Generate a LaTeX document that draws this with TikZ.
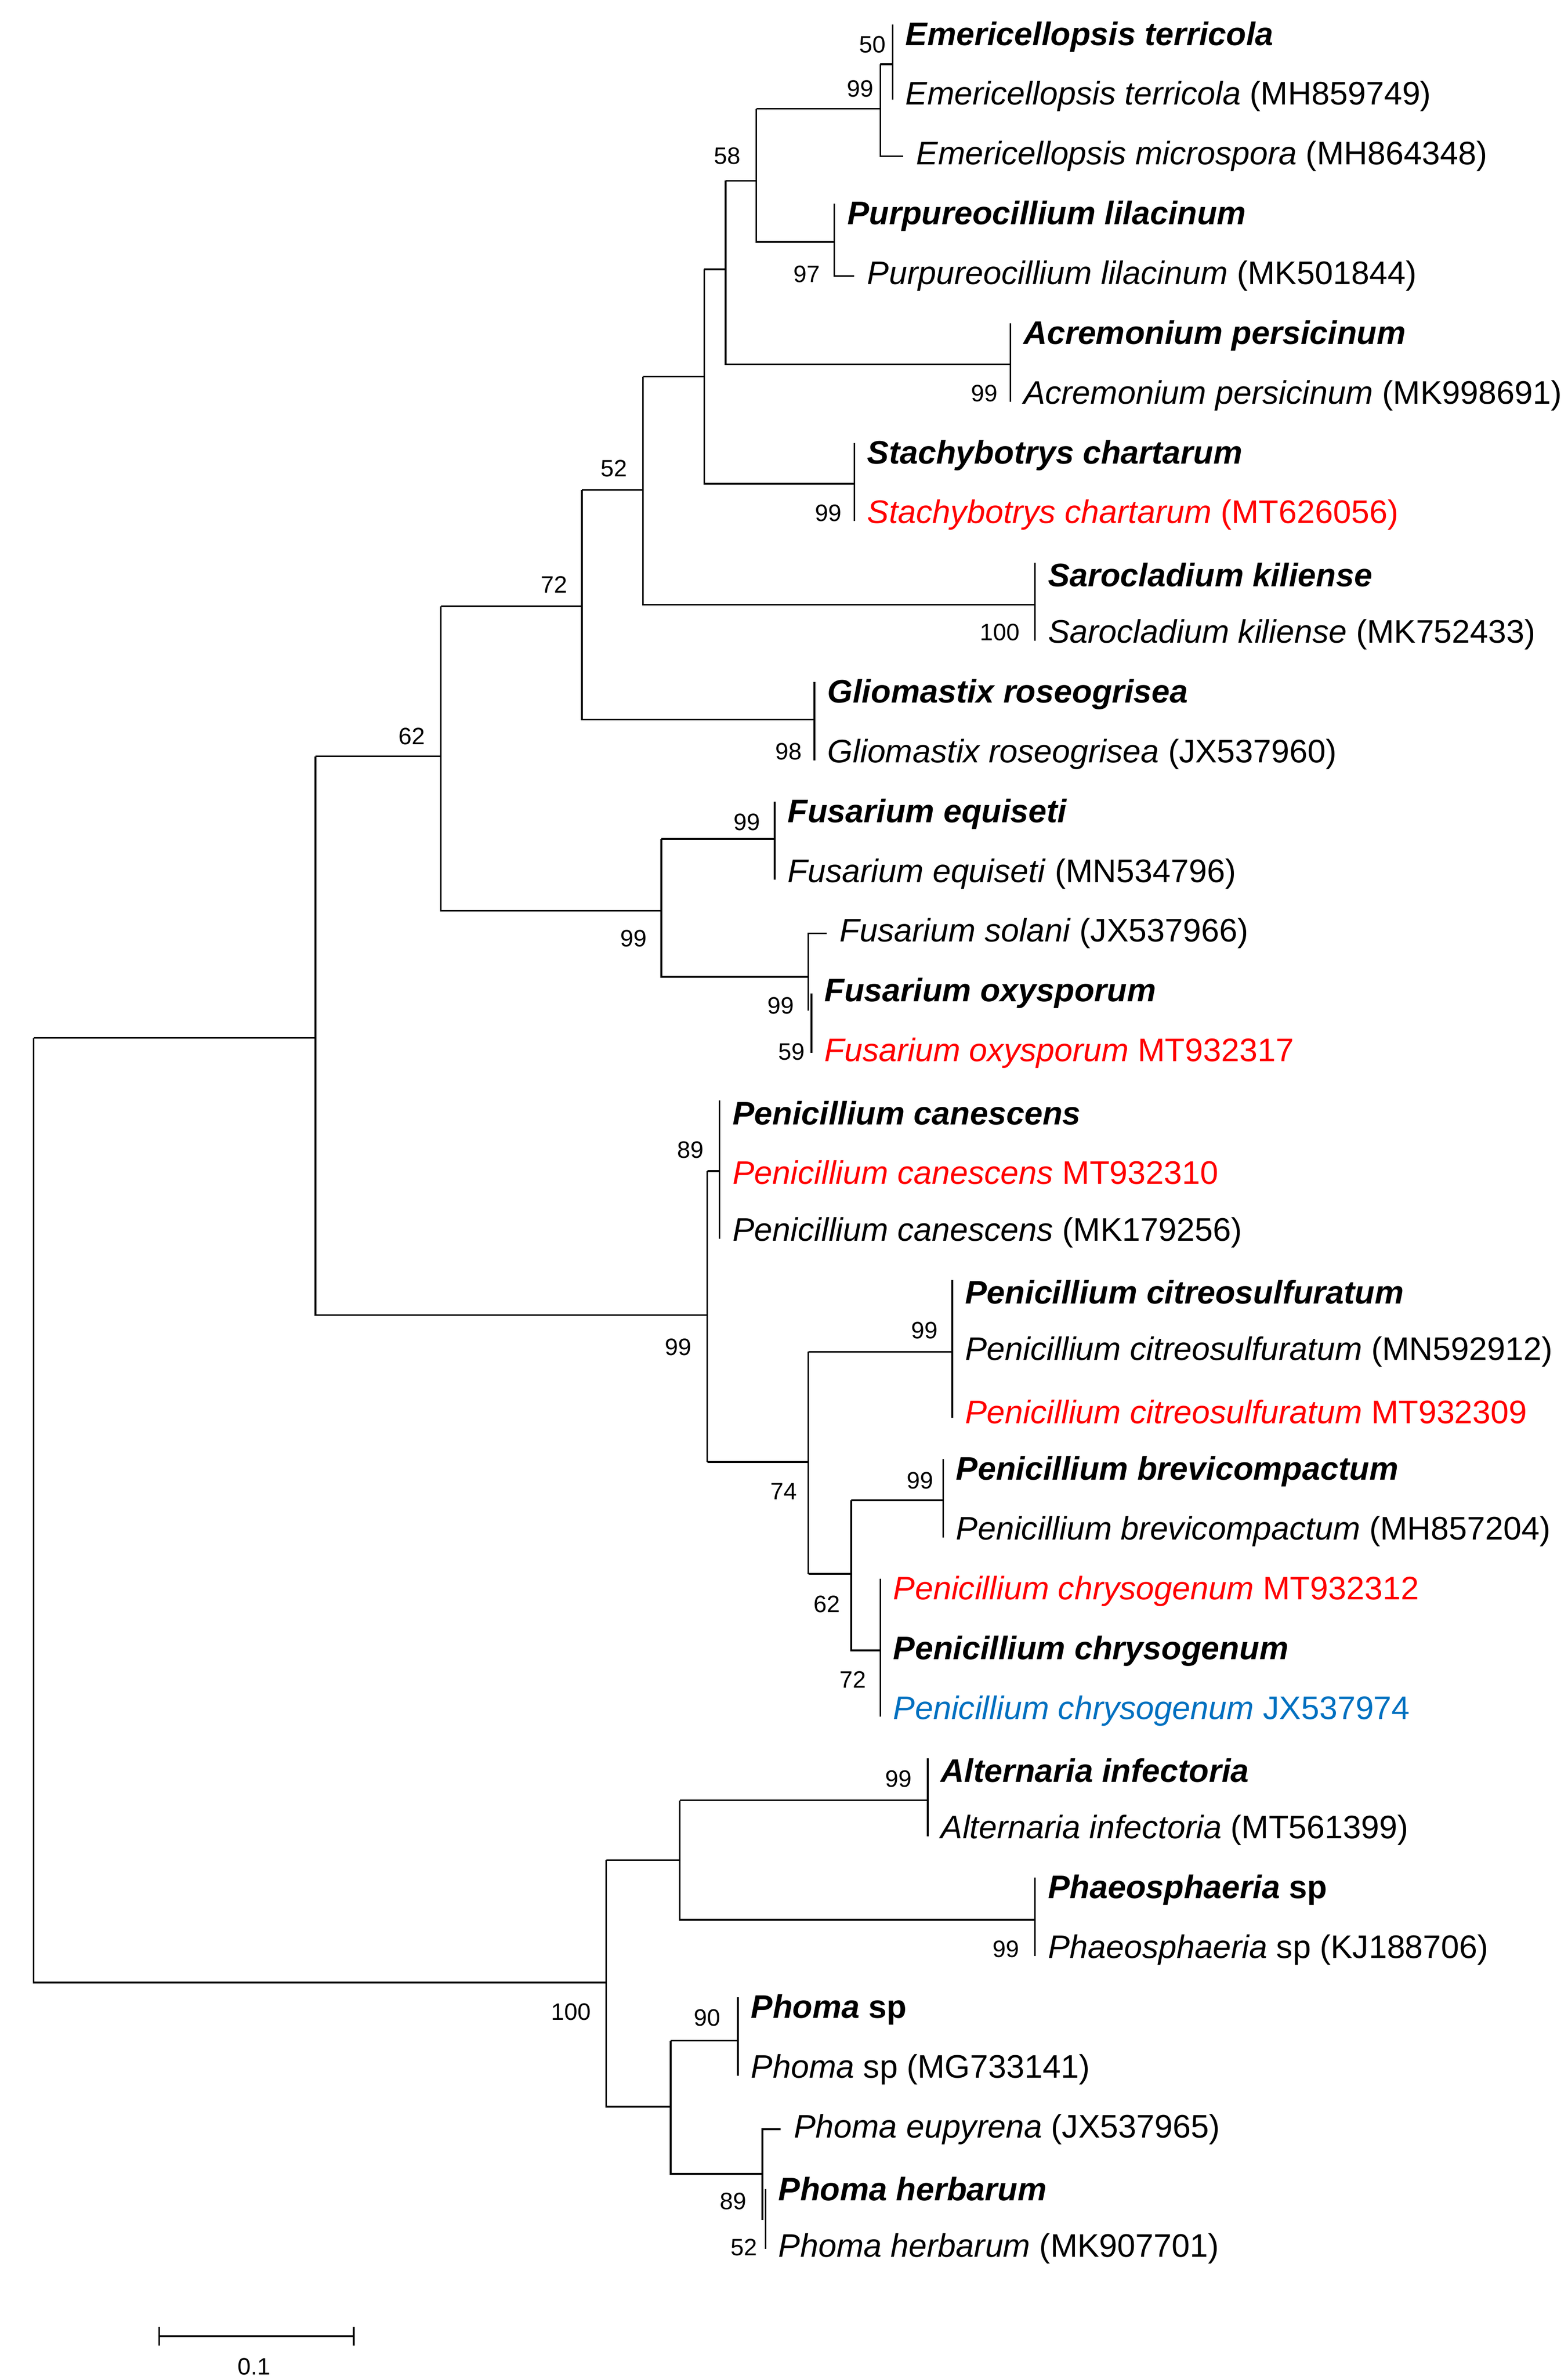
\documentclass[tikz,border=0pt]{standalone}
\usepackage{fontspec}
\setmainfont{Liberation Sans}
\definecolor{lred}{RGB}{255,0,0}
\definecolor{lblue}{RGB}{0,112,192}
\newcommand{\ly}[1]{-(24+39.05*#1)}
\begin{document}
\begin{tikzpicture}[x=1pt,y=1pt,line width=1.1pt,
  lf/.style={anchor=west,inner sep=0pt,font=\fontsize{21.3}{23}\selectfont},
  bs/.style={inner sep=0pt,font=\fontsize{15.5}{16}\selectfont}]
\useasboundingbox (0,0) rectangle (1024,-1552);
\newcommand{\leaf}[4]{\node[lf] (#1) at (#3+8,{\ly{#2}}) {#4};}
\newcommand{\clade}[3]{\draw (#1,{\ly{#2}+8}) -- (#1,{\ly{#3}-4});}
% Emericellopsis
\leaf{l0}{0}{583}{\textbf{\textit{Emericellopsis terricola}}}
\leaf{l1}{1}{583}{\textit{Emericellopsis terricola} (MH859749)}
\leaf{l2}{2}{590}{\textit{Emericellopsis microspora} (MH864348)}
\draw (583,{\ly{0}+8}) -- (583,{\ly{1}-2});
\draw (575,-42) -- (583,-42);
\draw (575,-42) -- (575,{\ly{2}}) -- (590,{\ly{2}});
\coordinate (e99) at (575,-71);
% Purpureocillium
\leaf{l3}{3}{545}{\textbf{\textit{Purpureocillium lilacinum}}}
\leaf{l4}{4}{558}{\textit{Purpureocillium lilacinum} (MK501844)}
\draw (545,{\ly{3}+8}) -- (545,{\ly{4}}) -- (558,{\ly{4}});
\draw (494,-71) -- (e99);
\draw (494,-71) -- (494,-158) -- (545,-158);
\draw (474,-118) -- (494,-118);
% Acremonium
\leaf{l5}{5}{660}{\textbf{\textit{Acremonium persicinum}}}
\leaf{l6}{6}{660}{\textit{Acremonium persicinum} (MK998691)}
\clade{660}{5}{6}
\draw (474,-118) -- (474,-238) -- (660,-238);
\draw (460,-176) -- (474,-176);
% Stachybotrys
\leaf{l7}{7}{558}{\textbf{\textit{Stachybotrys chartarum}}}
\leaf{l8}{8}{558}{\color{lred}\textit{Stachybotrys chartarum} (MT626056)}
\clade{558}{7}{8}
\draw (460,-176) -- (460,-316) -- (558,-316);
\draw (420,-246) -- (460,-246);
% Sarocladium
\leaf{l9}{9}{676}{\textbf{\textit{Sarocladium kiliense}}}
\leaf{l10}{10}{676}{\textit{Sarocladium kiliense} (MK752433)}
\clade{676}{9}{10}
\draw (420,-246) -- (420,-395) -- (676,-395);
\draw (380,-320) -- (420,-320);
% Gliomastix
\leaf{l11}{11}{532}{\textbf{\textit{Gliomastix roseogrisea}}}
\leaf{l12}{12}{532}{\textit{Gliomastix roseogrisea} (JX537960)}
\clade{532}{11}{12}
\draw (380,-320) -- (380,-470) -- (532,-470);
\draw (288,-396) -- (380,-396);
% Fusarium
\leaf{l13}{13}{506}{\textbf{\textit{Fusarium equiseti}}}
\leaf{l14}{14}{506}{\textit{Fusarium equiseti} (MN534796)}
\clade{506}{13}{14}
\leaf{l15}{15}{540}{\textit{Fusarium solani} (JX537966)}
\leaf{l16}{16}{530}{\textbf{\textit{Fusarium oxysporum}}}
\leaf{l17}{17}{530}{\color{lred}\textit{Fusarium oxysporum} MT932317}
\draw (540,{\ly{15}}) -- (528,{\ly{15}}) -- (528,-660);
\draw (530,{\ly{16}}) -- (530,{\ly{17}});
\draw (432,-548) -- (506,-548);
\draw (432,-548) -- (432,-638) -- (528,-638);
\draw (288,-396) -- (288,-595) -- (432,-595);
\draw (206,-494) -- (288,-494);
% Penicillium canescens
\leaf{l18}{18}{470}{\textbf{\textit{Penicillium canescens}}}
\leaf{l19}{19}{470}{\color{lred}\textit{Penicillium canescens} MT932310}
\leaf{l20}{20}{470}{\textit{Penicillium canescens} (MK179256)}
\clade{470}{18}{20}
\draw (462,-765) -- (470,-765);
% citreosulfuratum
\leaf{l21}{21}{622}{\textbf{\textit{Penicillium citreosulfuratum}}}
\leaf{l22}{22}{622}{\textit{Penicillium citreosulfuratum} (MN592912)}
\leaf{l23}{23}{622}{\color{lred}\textit{Penicillium citreosulfuratum} MT932309}
\clade{622}{21}{23}
\draw (528,-883) -- (622,-883);
% brevicompactum
\leaf{l24}{24}{616}{\textbf{\textit{Penicillium brevicompactum}}}
\leaf{l25}{25}{616}{\textit{Penicillium brevicompactum} (MH857204)}
\clade{616}{24}{25}
\draw (556,-980) -- (616,-980);
% chrysogenum
\leaf{l26}{26}{575}{\color{lred}\textit{Penicillium chrysogenum} MT932312}
\leaf{l27}{27}{575}{\textbf{\textit{Penicillium chrysogenum}}}
\leaf{l28}{28}{575}{\color{lblue}\textit{Penicillium chrysogenum} JX537974}
\clade{575}{26}{28}
\draw (556,-980) -- (556,-1078) -- (575,-1078);
\draw (528,-1028) -- (556,-1028);
\draw (528,-883) -- (528,-1028);
\draw (462,-955) -- (528,-955);
\draw (462,-765) -- (462,-955);
\draw (206,-494) -- (206,-859) -- (462,-859);
\draw (22,-678) -- (206,-678);
% Alternaria / Phaeosphaeria
\leaf{l29}{29}{606}{\textbf{\textit{Alternaria infectoria}}}
\leaf{l30}{30}{606}{\textit{Alternaria infectoria} (MT561399)}
\clade{606}{29}{30}
\leaf{l31}{31}{676}{\textbf{\textit{Phaeosphaeria} sp}}
\leaf{l32}{32}{676}{\textit{Phaeosphaeria} sp (KJ188706)}
\clade{676}{31}{32}
\draw (444,-1176) -- (606,-1176);
\draw (444,-1176) -- (444,-1254) -- (676,-1254);
\draw (396,-1215) -- (444,-1215);
% Phoma
\leaf{l33}{33}{482}{\textbf{\textit{Phoma} sp}}
\leaf{l34}{34}{482}{\textit{Phoma} sp (MG733141)}
\clade{482}{33}{34}
\leaf{l35}{35}{510}{\textit{Phoma eupyrena} (JX537965)}
\leaf{l36}{36}{500}{\textbf{\textit{Phoma herbarum}}}
\leaf{l37}{37}{500}{\textit{Phoma herbarum} (MK907701)}
\draw (510,{\ly{35}}) -- (498,{\ly{35}}) -- (498,-1450);
\draw (500,{\ly{36}}) -- (500,{\ly{37}});
\draw (438,-1333) -- (482,-1333);
\draw (438,-1333) -- (438,-1420) -- (498,-1420);
\draw (396,-1215) -- (396,-1376) -- (438,-1376);
\draw (22,-678) -- (22,-1295) -- (396,-1295);
% bootstrap
\foreach \t/\x/\y in {50/570/29,99/562/58,58/475/102,97/527/179,99/643/257,99/541/335,52/401/306,100/653/413,72/362/382,98/515/491,62/269/481,99/488/537,99/414/613,99/510/657,59/517/687,89/451/751,99/443/880,99/604/869,74/512/974,99/601/967,62/540/1048,72/557/1097,99/587/1162,99/657/1273,100/373/1314,90/462/1318,89/479/1438,52/486/1468}
  \node[bs] (b\x\y) at (\x,-\y) {\t};
% scale bar
\coordinate (s1) at (104,-1526);
\coordinate (s2) at (231,-1526);
\draw (s1) -- (s2);
\draw ([yshift=6]s1) -- ([yshift=-6]s1);
\draw ([yshift=6]s2) -- ([yshift=-6]s2);
\node[bs] (sl) at (166,-1546) {0.1};
\end{tikzpicture}
\end{document}
